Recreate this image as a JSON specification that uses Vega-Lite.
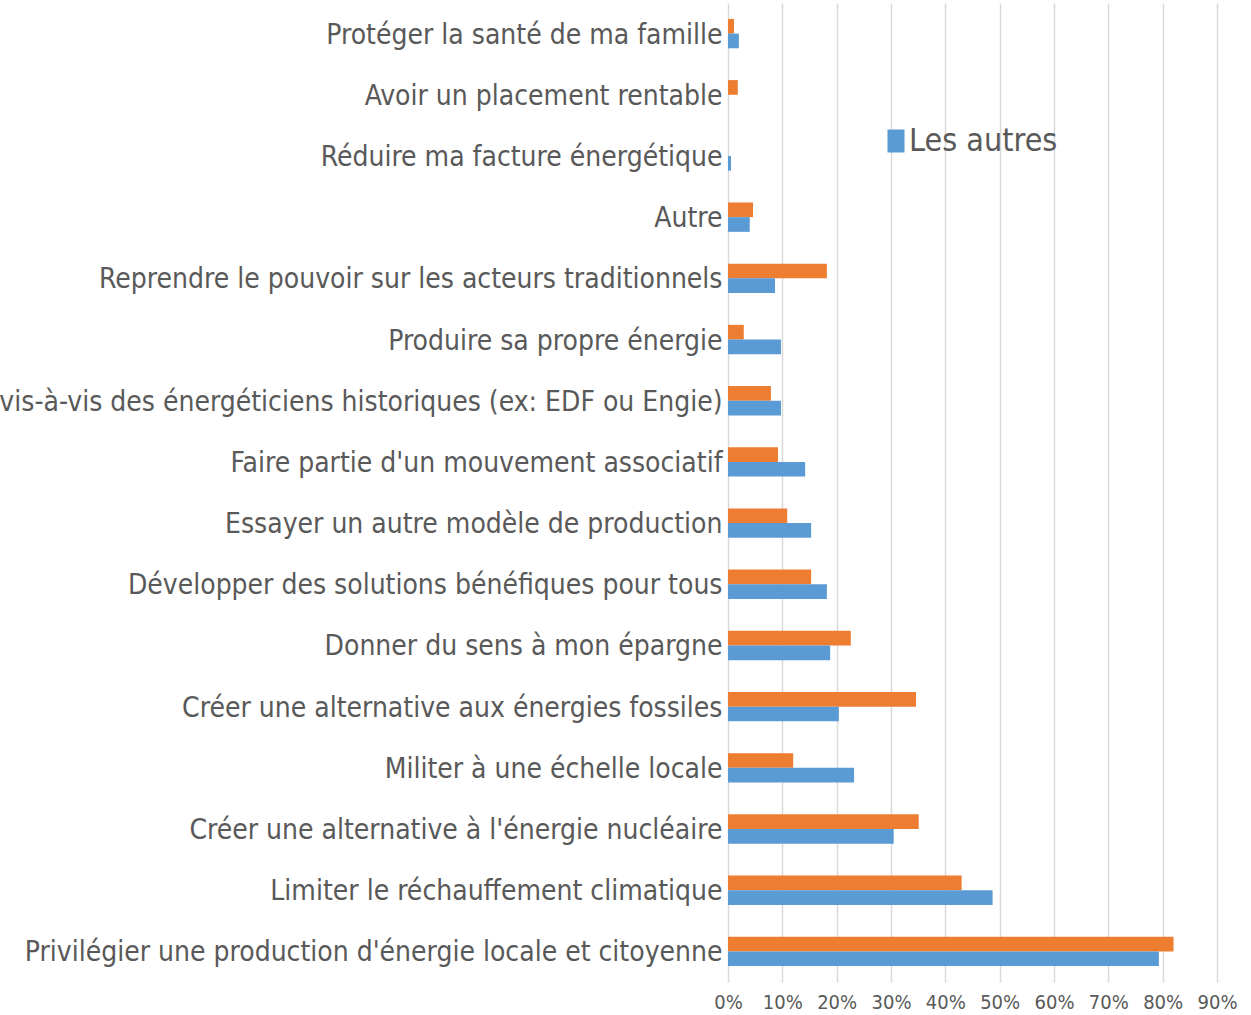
{
  "$schema": "https://vega.github.io/schema/vega-lite/v6.json",
  "width": 489,
  "height": 979,
  "autosize": {"type": "none"},
  "padding": {"left": 728, "top": 3, "right": 34, "bottom": 33},
  "background": "white",
  "config": {"view": {"stroke": null}, "font": "DejaVu Sans Condensed"},
  "data": {
    "values": [
      {"q": "Protéger la santé de ma famille", "serie": "Les sociétaires", "v": 0.011},
      {"q": "Protéger la santé de ma famille", "serie": "Les autres", "v": 0.020},
      {"q": "Avoir un placement rentable", "serie": "Les sociétaires", "v": 0.018},
      {"q": "Avoir un placement rentable", "serie": "Les autres", "v": 0.0},
      {"q": "Réduire ma facture énergétique", "serie": "Les sociétaires", "v": 0.0},
      {"q": "Réduire ma facture énergétique", "serie": "Les autres", "v": 0.0055},
      {"q": "Autre", "serie": "Les sociétaires", "v": 0.046},
      {"q": "Autre", "serie": "Les autres", "v": 0.040},
      {"q": "Reprendre le pouvoir sur les acteurs traditionnels", "serie": "Les sociétaires", "v": 0.182},
      {"q": "Reprendre le pouvoir sur les acteurs traditionnels", "serie": "Les autres", "v": 0.0865},
      {"q": "Produire sa propre énergie", "serie": "Les sociétaires", "v": 0.029},
      {"q": "Produire sa propre énergie", "serie": "Les autres", "v": 0.0975},
      {"q": "vis-à-vis des énergéticiens historiques (ex: EDF ou Engie)", "serie": "Les sociétaires", "v": 0.079},
      {"q": "vis-à-vis des énergéticiens historiques (ex: EDF ou Engie)", "serie": "Les autres", "v": 0.0975},
      {"q": "Faire partie d'un mouvement associatif", "serie": "Les sociétaires", "v": 0.092},
      {"q": "Faire partie d'un mouvement associatif", "serie": "Les autres", "v": 0.142},
      {"q": "Essayer un autre modèle de production", "serie": "Les sociétaires", "v": 0.109},
      {"q": "Essayer un autre modèle de production", "serie": "Les autres", "v": 0.153},
      {"q": "Développer des solutions bénéfiques pour tous", "serie": "Les sociétaires", "v": 0.153},
      {"q": "Développer des solutions bénéfiques pour tous", "serie": "Les autres", "v": 0.182},
      {"q": "Donner du sens à mon épargne", "serie": "Les sociétaires", "v": 0.226},
      {"q": "Donner du sens à mon épargne", "serie": "Les autres", "v": 0.188},
      {"q": "Créer une alternative aux énergies fossiles", "serie": "Les sociétaires", "v": 0.346},
      {"q": "Créer une alternative aux énergies fossiles", "serie": "Les autres", "v": 0.204},
      {"q": "Militer à une échelle locale", "serie": "Les sociétaires", "v": 0.120},
      {"q": "Militer à une échelle locale", "serie": "Les autres", "v": 0.232},
      {"q": "Créer une alternative à l'énergie nucléaire", "serie": "Les sociétaires", "v": 0.351},
      {"q": "Créer une alternative à l'énergie nucléaire", "serie": "Les autres", "v": 0.305},
      {"q": "Limiter le réchauffement climatique", "serie": "Les sociétaires", "v": 0.430},
      {"q": "Limiter le réchauffement climatique", "serie": "Les autres", "v": 0.487},
      {"q": "Privilégier une production d'énergie locale et citoyenne", "serie": "Les sociétaires", "v": 0.820},
      {"q": "Privilégier une production d'énergie locale et citoyenne", "serie": "Les autres", "v": 0.793}
    ]
  },
  "mark": {"type": "bar"},
  "encoding": {
    "y": {
      "field": "q",
      "type": "nominal",
      "sort": [
        "Protéger la santé de ma famille",
        "Avoir un placement rentable",
        "Réduire ma facture énergétique",
        "Autre",
        "Reprendre le pouvoir sur les acteurs traditionnels",
        "Produire sa propre énergie",
        "vis-à-vis des énergéticiens historiques (ex: EDF ou Engie)",
        "Faire partie d'un mouvement associatif",
        "Essayer un autre modèle de production",
        "Développer des solutions bénéfiques pour tous",
        "Donner du sens à mon épargne",
        "Créer une alternative aux énergies fossiles",
        "Militer à une échelle locale",
        "Créer une alternative à l'énergie nucléaire",
        "Limiter le réchauffement climatique",
        "Privilégier une production d'énergie locale et citoyenne"
      ],
      "scale": {"paddingInner": 0.52, "paddingOuter": 0.26},
      "axis": {
        "title": null,
        "labelFont": "DejaVu Sans Condensed",
        "labelFontSize": 28,
        "labelColor": "#595959",
        "labelLimit": 2000,
        "labelOffset": 2,
        "ticks": false,
        "domain": false,
        "labelPadding": 6
      }
    },
    "x": {
      "field": "v",
      "type": "quantitative",
      "scale": {"domain": [0, 0.9]},
      "axis": {
        "title": null,
        "format": ".0%",
        "values": [0, 0.1, 0.2, 0.3, 0.4, 0.5, 0.6, 0.7, 0.8, 0.9],
        "labelOverlap": false,
        "labelFlush": false,
        "labelFont": "DejaVu Sans Condensed",
        "labelFontSize": 20,
        "labelColor": "#595959",
        "gridColor": "#d9d9d9",
        "gridWidth": 1.5,
        "domain": false,
        "ticks": false,
        "labelPadding": 10
      }
    },
    "yOffset": {"field": "serie", "sort": ["Les sociétaires", "Les autres"]},
    "color": {
      "field": "serie",
      "type": "nominal",
      "scale": {"domain": ["Les sociétaires", "Les autres"], "range": ["#ED7D31", "#5B9BD5"]},
      "legend": {
        "title": null,
        "values": ["Les autres"],
        "orient": "none",
        "legendX": 152,
        "legendY": 122,
        "labelFont": "DejaVu Sans Condensed",
        "labelFontSize": 32,
        "labelColor": "#595959",
        "labelLimit": 400,
        "labelOffset": -3,
        "symbolType": "M-0.74,-1H0.74V1H-0.74Z",
        "symbolSize": 529,
        "symbolStrokeWidth": 0
      }
    }
  }
}
